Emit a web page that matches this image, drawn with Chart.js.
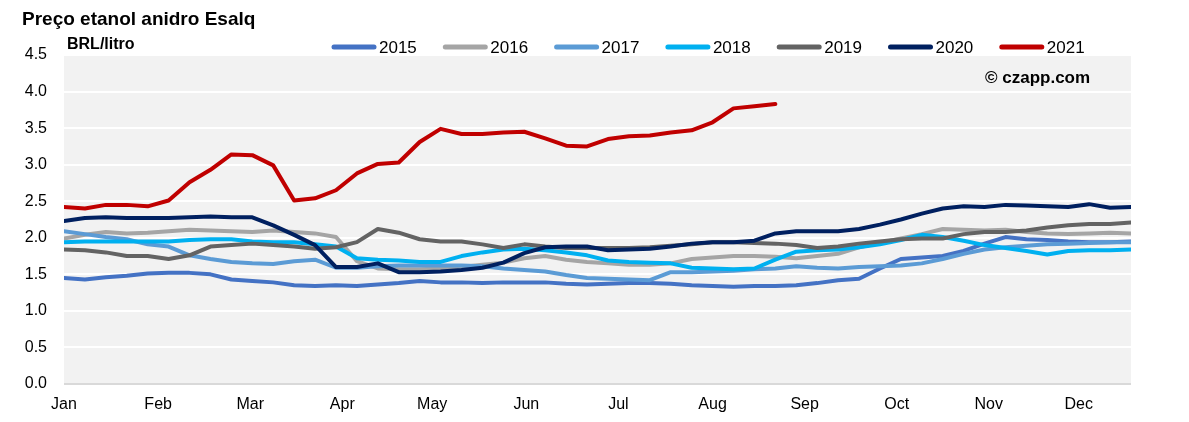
<!DOCTYPE html>
<html>
<head>
<meta charset="utf-8">
<script src="https://cdn.jsdelivr.net/npm/chart.js@4.4.0/dist/chart.umd.min.js"></script>
<style>
  html, body { margin: 0; padding: 0; background: #ffffff; }
  #wrap { width: 1189px; height: 422px; }
</style>
</head>
<body>
<div id="wrap"><canvas id="chartEtanol" width="1189" height="422"></canvas></div>
<script>
// Semanas do ano (eixo x) e posição dos rótulos dos meses
const semanas = Array.from({ length: 52 }, (_, i) => i);
const meses = ['Jan', 'Feb', 'Mar', 'Apr', 'May', 'Jun', 'Jul', 'Aug', 'Sep', 'Oct', 'Nov', 'Dec'];
const posMeses = [0, 4.5, 8.9, 13.3, 17.6, 22.1, 26.5, 31.0, 35.4, 39.8, 44.2, 48.5];
const ticksY = [0, 0.5, 1.0, 1.5, 2.0, 2.5, 3.0, 3.5, 4.0, 4.5];

const anos = ['2015', '2016', '2017', '2018', '2019', '2020', '2021'];

// Preço semanal (BRL/litro)
const v2015 = [1.45, 1.43, 1.46, 1.48, 1.51, 1.52, 1.52, 1.50, 1.43, 1.41, 1.39, 1.35, 1.34, 1.35, 1.34, 1.36, 1.38, 1.41, 1.39, 1.39, 1.38, 1.39, 1.39, 1.39, 1.37, 1.36,
               1.37, 1.38, 1.38, 1.37, 1.35, 1.34, 1.33, 1.34, 1.34, 1.35, 1.38, 1.42, 1.44, 1.58, 1.71, 1.73, 1.75, 1.82, 1.92, 2.01, 1.98, 1.97, 1.95, 1.94, 1.94, 1.95];
const v2016 = [1.99, 2.04, 2.08, 2.06, 2.07, 2.09, 2.11, 2.10, 2.09, 2.08, 2.10, 2.08, 2.06, 2.01, 1.68, 1.58, 1.57, 1.57, 1.58, 1.60, 1.63, 1.66, 1.72, 1.75, 1.70, 1.67,
               1.65, 1.63, 1.63, 1.65, 1.71, 1.73, 1.75, 1.75, 1.74, 1.72, 1.75, 1.78, 1.87, 1.93, 1.99, 2.05, 2.12, 2.11, 2.10, 2.11, 2.08, 2.06, 2.05, 2.06, 2.07, 2.06];
const v2017 = [2.09, 2.05, 2.01, 1.98, 1.91, 1.88, 1.76, 1.71, 1.67, 1.65, 1.64, 1.68, 1.70, 1.59, 1.59, 1.61, 1.62, 1.62, 1.62, 1.62, 1.61, 1.58, 1.56, 1.54, 1.49, 1.45,
               1.44, 1.43, 1.42, 1.53, 1.53, 1.54, 1.55, 1.57, 1.58, 1.61, 1.59, 1.58, 1.60, 1.61, 1.62, 1.65, 1.71, 1.78, 1.84, 1.87, 1.89, 1.91, 1.92, 1.93, 1.94, 1.94];
const v2018 = [1.94, 1.95, 1.95, 1.95, 1.95, 1.95, 1.97, 1.98, 1.98, 1.95, 1.94, 1.94, 1.91, 1.88, 1.72, 1.70, 1.69, 1.67, 1.67, 1.75, 1.80, 1.84, 1.85, 1.83, 1.80, 1.76,
               1.69, 1.67, 1.66, 1.65, 1.59, 1.58, 1.57, 1.58, 1.70, 1.81, 1.83, 1.84, 1.87, 1.91, 1.97, 2.04, 2.01, 1.96, 1.90, 1.86, 1.82, 1.77, 1.82, 1.83, 1.83, 1.84];
const v2019 = [1.84, 1.83, 1.80, 1.75, 1.75, 1.71, 1.76, 1.88, 1.90, 1.92, 1.90, 1.88, 1.85, 1.87, 1.94, 2.12, 2.07, 1.98, 1.95, 1.95, 1.91, 1.86, 1.91, 1.88, 1.86, 1.86,
               1.86, 1.86, 1.87, 1.89, 1.91, 1.94, 1.94, 1.93, 1.92, 1.90, 1.86, 1.88, 1.92, 1.95, 1.98, 1.99, 1.99, 2.05, 2.08, 2.08, 2.10, 2.14, 2.17, 2.19, 2.19, 2.21];
const v2020 = [2.23, 2.27, 2.28, 2.27, 2.27, 2.27, 2.28, 2.29, 2.28, 2.28, 2.17, 2.04, 1.90, 1.60, 1.60, 1.65, 1.53, 1.53, 1.54, 1.56, 1.59, 1.66, 1.79, 1.87, 1.88, 1.88,
               1.83, 1.84, 1.85, 1.88, 1.92, 1.94, 1.94, 1.96, 2.06, 2.09, 2.09, 2.09, 2.12, 2.18, 2.25, 2.33, 2.40, 2.43, 2.42, 2.45, 2.44, 2.43, 2.42, 2.46, 2.41, 2.42];
const v2021 = [2.42, 2.40, 2.45, 2.45, 2.43, 2.51, 2.76, 2.93, 3.14, 3.13, 2.99, 2.51, 2.54, 2.65, 2.88, 3.01, 3.03, 3.31, 3.49, 3.42, 3.42, 3.44, 3.45, 3.36, 3.26, 3.25,
               3.35, 3.39, 3.40, 3.44, 3.47, 3.58, 3.77, 3.80, 3.83];

const series = [v2015, v2016, v2017, v2018, v2019, v2020, v2021];
const cores = ['#4472C4', '#A5A5A5', '#5B9BD5', '#00B0F0', '#636363', '#002060', '#C00000'];

const fonte = '"Liberation Sans", Arial, sans-serif';

// Fundo cinza da área do gráfico
const fundoPlugin = {
    id: 'fundo',
    beforeDraw(chart) {
        const { ctx, chartArea: a } = chart;
        ctx.save();
        ctx.fillStyle = '#f2f2f2';
        ctx.fillRect(a.left, a.top, a.right - a.left, a.bottom - a.top);
        ctx.restore();
    },
};

// Título, unidade, fonte e legenda
const textosPlugin = {
    id: 'textos',
    afterDraw(chart) {
        const ctx = chart.ctx;
        ctx.save();
        ctx.fillStyle = '#000000';
        ctx.textBaseline = 'middle';
        ctx.textAlign = 'left';
        ctx.font = 'bold 19px ' + fonte;
        ctx.fillText('Preço etanol anidro Esalq', 22, 20);
        ctx.font = 'bold 16px ' + fonte;
        ctx.fillText('BRL/litro', 67, 45);
        ctx.font = 'bold 17px ' + fonte;
        ctx.fillText('© czapp.com', 985, 78);

        // Legenda
        ctx.font = '17px ' + fonte;
        ctx.lineCap = 'round';
        ctx.lineWidth = 5;
        chart.data.datasets.forEach((ds, i) => {
            const x = 334 + i * 111.3;
            ctx.strokeStyle = ds.borderColor;
            ctx.beginPath();
            ctx.moveTo(x, 47);
            ctx.lineTo(x + 40, 47);
            ctx.stroke();
            ctx.fillStyle = '#000000';
            ctx.fillText(ds.label, x + 45, 48);
        });
        ctx.restore();
    },
};

const datasets = anos.map((ano, i) => ({
    label: ano,
    data: series[i],
    borderColor: cores[i],
    backgroundColor: cores[i],
    borderWidth: 4,
    borderCapStyle: 'round',
    borderJoinStyle: 'round',
    pointRadius: 0,
    tension: 0,
    fill: false,
    order: anos.length - i, // 2021 por cima
}));

new Chart(document.getElementById('chartEtanol').getContext('2d'), {
    type: 'line',
    data: { labels: semanas, datasets },
    options: {
        responsive: false,
        animation: false,
        devicePixelRatio: 1,
        layout: { padding: { top: 55, right: 58, left: 0, bottom: 0 } },
        plugins: {
            legend: { display: false },
            tooltip: { enabled: false },
        },
        scales: {
            x: {
                type: 'linear',
                min: 0,
                max: 51,
                grid: { display: false, drawTicks: false },
                border: { display: false },
                afterBuildTicks: (scale) => { scale.ticks = posMeses.map(v => ({ value: v })); },
                afterFit: (scale) => { scale.height = 38; },
                ticks: {
                    autoSkip: false,
                    maxRotation: 0,
                    padding: 11,
                    color: '#000000',
                    font: { size: 16, family: fonte },
                    callback: (v, i) => meses[i],
                },
            },
            y: {
                min: 0,
                max: 4.5,
                grid: {
                    drawTicks: false,
                    lineWidth: 2,
                    color: (c) => (c.tick && c.tick.value === 0 ? '#d9d9d9' : '#ffffff'),
                },
                border: { display: false },
                afterBuildTicks: (scale) => { scale.ticks = ticksY.map(v => ({ value: v })); },
                afterFit: (scale) => { scale.width = 64; },
                ticks: {
                    padding: 17,
                    color: '#000000',
                    font: { size: 16, family: fonte },
                    callback: (v) => Number(v).toFixed(1),
                },
            },
        },
    },
    plugins: [fundoPlugin, textosPlugin],
});
</script>
</body>
</html>
